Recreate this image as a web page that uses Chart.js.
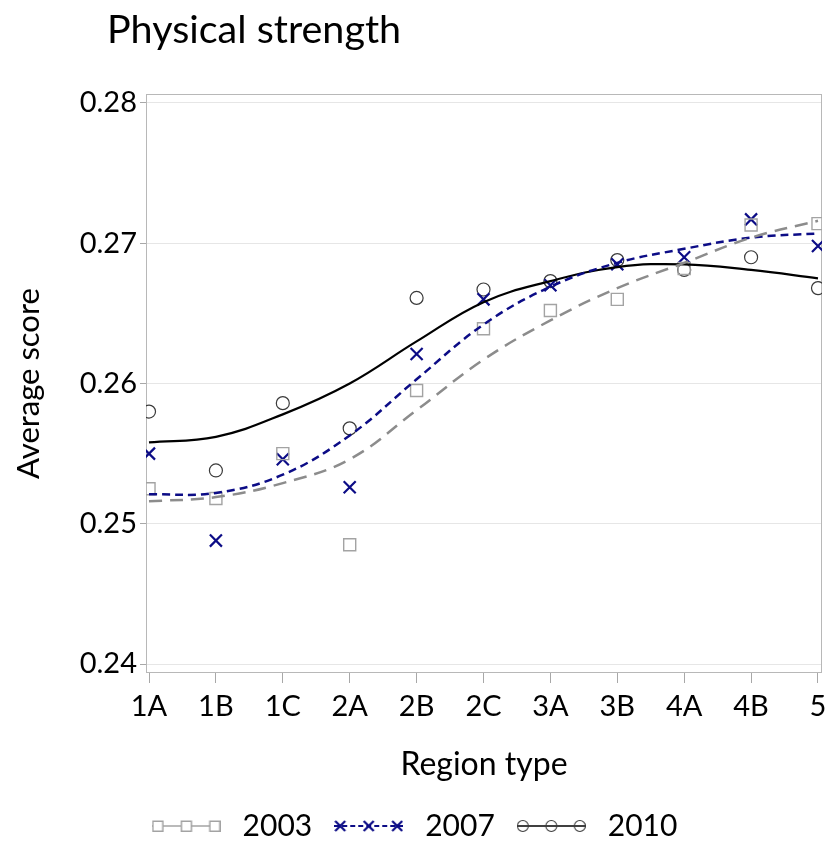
<!DOCTYPE html>
<html><head><meta charset="utf-8">
<script src="https://cdn.jsdelivr.net/npm/chart.js@4/dist/chart.umd.min.js"></script>
<style>
html,body{margin:0;padding:0;background:#fff;}
#wrap{position:relative;width:836px;height:844px;overflow:hidden;}
#title{position:absolute;left:107px;top:8px;font-family:Lato,sans-serif;font-size:39.5px;line-height:1;color:#000;white-space:nowrap;}
canvas{position:absolute;left:0;top:0;}
</style></head><body>
<div id="wrap"><canvas id="c" width="836" height="844"></canvas><div id="title">Physical strength</div></div>
<script>
const categories = ['1A','1B','1C','2A','2B','2C','3A','3B','4A','4B','5'];
const yTicks = [0.24, 0.25, 0.26, 0.27, 0.28];
const seriesNames = ['2003', '2007', '2010'];
// observed averages
const obs2003 = [0.2525,0.2518,0.2550,0.2485,0.2595,0.2639,0.2652,0.2660,0.2682,0.2713,0.2714];
const obs2007 = [0.2550,0.2488,0.2546,0.2526,0.2621,0.2660,0.2670,0.2685,0.2690,0.2717,0.2698];
const obs2010 = [0.2580,0.2538,0.2586,0.2568,0.2661,0.2667,0.2673,0.2688,0.2681,0.2690,0.2668];
// fitted curves (at each region type)
const fit2003 = [0.2516,0.2519,0.2529,0.2546,0.2581,0.2617,0.2645,0.2668,0.2686,0.2704,0.2716];
const fit2007 = [0.2521,0.2522,0.2535,0.2563,0.2603,0.2642,0.2669,0.2686,0.2696,0.2704,0.2707];
const fit2010 = [0.2558,0.2562,0.2578,0.2600,0.2630,0.2658,0.2673,0.2683,0.2685,0.2681,0.2675];

const C2003 = '#a3a3a3', C2003L = '#8c8c8c', C2007 = '#0c0c86', C2010 = '#3a3a3a';
const toXY = arr => arr.map((v, i) => ({x: i, y: v}));

function makeSymbol(kind) {
  const cv = document.createElement('canvas');
  cv.width = 69; cv.height = 16;
  const g = cv.getContext('2d');
  const cy = 8, xs = [6, 34.5, 63];
  if (kind === 0) {
    g.strokeStyle = C2003; g.lineWidth = 1.5;
    g.beginPath(); g.moveTo(0, cy); g.lineTo(69, cy); g.stroke();
    xs.forEach(x => { g.fillStyle = '#fff'; g.fillRect(x-5, cy-5, 10, 10); g.strokeRect(x-5+0.25, cy-5+0.25, 10, 10); });
  } else if (kind === 1) {
    g.strokeStyle = C2007; g.lineWidth = 2;
    g.setLineDash([5, 3]);
    g.beginPath(); g.moveTo(0, cy); g.lineTo(69, cy); g.stroke();
    g.setLineDash([]); g.lineWidth = 2.2;
    xs.forEach(x => { g.beginPath(); g.moveTo(x-5, cy-5); g.lineTo(x+5, cy+5); g.moveTo(x+5, cy-5); g.lineTo(x-5, cy+5); g.stroke(); });
  } else {
    g.strokeStyle = '#000'; g.lineWidth = 1.6;
    g.beginPath(); g.moveTo(0, cy); g.lineTo(69, cy); g.stroke();
    g.lineWidth = 1.1; g.strokeStyle = C2010;
    xs.forEach(x => { g.beginPath(); g.arc(x, cy, 5.5, 0, Math.PI*2); g.stroke(); });
  }
  return cv;
}
const symbols = [makeSymbol(0), makeSymbol(1), makeSymbol(2)];

const frame = {
  id: 'frame',
  beforeDatasetsDraw(chart) {
    const {ctx, chartArea: a} = chart;
    ctx.save();
    ctx.strokeStyle = '#b8b8b8'; ctx.lineWidth = 1;
    ctx.strokeRect(Math.round(a.left) + 0.5, Math.round(a.top) + 0.5, Math.round(a.right - a.left) - 1, Math.round(a.bottom - a.top) - 1);
    ctx.restore();
  }
};

const FONT = 'Lato';
new Chart(document.getElementById('c'), {
  type: 'line',
  data: {
    datasets: [
      {label: 'fit2003', data: toXY(fit2003), borderColor: C2003L, borderWidth: 2.5, borderDash: [13, 8], pointRadius: 0, tension: 0.4, fill: false},
      {label: 'fit2007', data: toXY(fit2007), borderColor: C2007, borderWidth: 2.5, borderDash: [8, 5], pointRadius: 0, tension: 0.4, fill: false},
      {label: 'fit2010', data: toXY(fit2010), borderColor: '#000', borderWidth: 2.2, pointRadius: 0, tension: 0.4, fill: false},
      {label: '2003', data: toXY(obs2003), showLine: false, pointStyle: 'rect', pointRadius: 8.5, pointBorderWidth: 1.4, pointBorderColor: C2003, pointBackgroundColor: 'rgba(0,0,0,0)'},
      {label: '2007', data: toXY(obs2007), showLine: false, pointStyle: 'crossRot', pointRadius: 8.5, pointBorderWidth: 2.2, pointBorderColor: C2007, pointBackgroundColor: C2007},
      {label: '2010', data: toXY(obs2010), showLine: false, pointStyle: 'circle', pointRadius: 6.5, pointBorderWidth: 1.2, pointBorderColor: C2010, pointBackgroundColor: 'rgba(0,0,0,0)'}
    ]
  },
  options: {
    responsive: false,
    animation: false,
    devicePixelRatio: 1,
    layout: {padding: {left: 0, right: 14, top: 94, bottom: -7}},
    plugins: {
      tooltip: {enabled: false},
      title: {display: false},
      legend: {
        position: 'bottom',
        onClick: null,
        labels: {
          usePointStyle: true,
          pointStyleWidth: 83,
          padding: 15,
          color: '#000',
          font: {family: FONT, size: 30},
          generateLabels: () => seriesNames.map((n, i) => ({
            text: n, pointStyle: symbols[i], fillStyle: 'rgba(0,0,0,0)', strokeStyle: 'rgba(0,0,0,0)',
            lineWidth: 0, hidden: false, datasetIndex: 3 + i, fontColor: '#000'
          }))
        }
      }
    },
    scales: {
      x: {
        type: 'linear',
        min: -0.045, max: 10.06,
        afterBuildTicks: s => { s.ticks = categories.map((c, i) => ({value: i})); },
        afterFit: s => { s.height = 123; },
        border: {display: false},
        grid: {drawOnChartArea: false, drawTicks: true, tickLength: 10, tickColor: '#a8a8a8'},
        ticks: {
          autoSkip: false, maxRotation: 0, padding: 6, color: '#000',
          font: {family: FONT, size: 29},
          callback: v => categories[v]
        },
        title: {display: true, text: 'Region type', color: '#000', font: {family: FONT, size: 32}, padding: {top: 0, bottom: 12}}
      },
      y: {
        type: 'linear',
        min: 0.23936, max: 0.28064,
        afterBuildTicks: s => { s.ticks = yTicks.map(v => ({value: v})); },
        afterFit: s => { s.width = 146; },
        border: {display: false},
        grid: {color: '#e6e6e6', tickColor: '#a8a8a8', tickLength: 6},
        ticks: {
          padding: 3, color: '#000',
          font: {family: FONT, size: 29},
          callback: v => v.toFixed(2)
        },
        title: {display: true, text: 'Average score', color: '#000', font: {family: FONT, size: 31}, padding: {top: 10, bottom: 0}}
      }
    }
  },
  plugins: [frame]
});
</script>
</body></html>
